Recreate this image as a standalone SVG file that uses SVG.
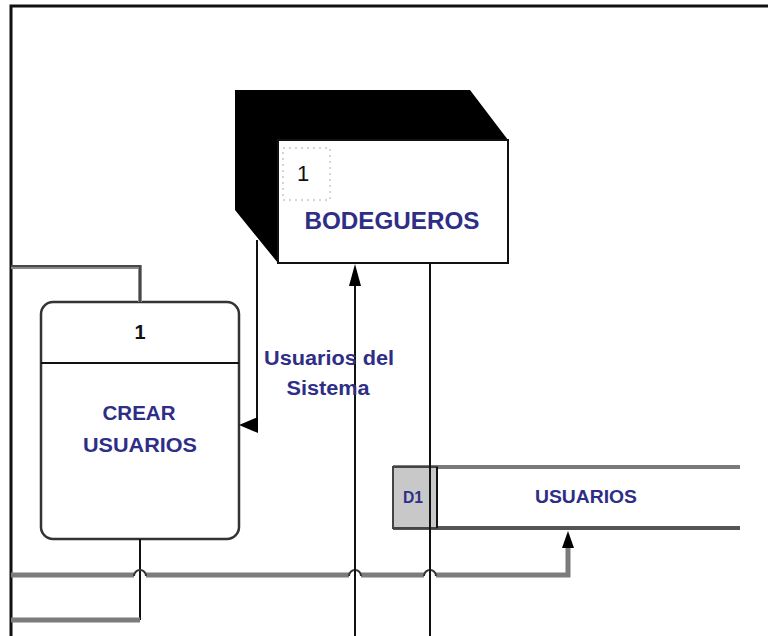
<svg xmlns="http://www.w3.org/2000/svg" width="768" height="636" viewBox="0 0 768 636">
<style>
.t{font-family:"Liberation Sans",Arial,sans-serif;font-weight:bold;fill:#2e2e86}
.k{fill:none;stroke:#111;stroke-width:2}
.g{fill:none;stroke:#7c7c7c;stroke-width:5}
.ah{fill:#000}
</style>
<rect width="768" height="636" fill="#fff"/>
<path d="M11,636 V6 H768" fill="none" stroke="#111" stroke-width="3"/>
<g id="ext-bodegueros">
<polygon points="235,90 470,90 508,140 278,140 278,263 235,210" fill="#000"/>
<rect x="278" y="140" width="230" height="123" fill="#fff" stroke="#111" stroke-width="2"/>
<rect x="283" y="148" width="47" height="52" fill="none" stroke="#aaa" stroke-width="1" stroke-dasharray="2,4"/>
<text x="297" y="181" font-size="22" font-family="Liberation Sans, Arial, sans-serif" fill="#111">1</text>
<text class="t" x="392" y="229" font-size="23" text-anchor="middle" textLength="175" lengthAdjust="spacingAndGlyphs">BODEGUEROS</text>
</g>
<g id="proc-crear">
<rect x="41" y="302" width="198" height="237" rx="12" fill="#fff" stroke="#333" stroke-width="2.5"/>
<line x1="41" y1="363" x2="239" y2="363" stroke="#111" stroke-width="2"/>
<text class="t" x="140" y="339" font-size="20" text-anchor="middle" style="fill:#111">1</text>
<text class="t" x="139" y="420" font-size="21" text-anchor="middle" textLength="73" lengthAdjust="spacingAndGlyphs">CREAR</text>
<text class="t" x="140" y="452" font-size="21" text-anchor="middle" textLength="114" lengthAdjust="spacingAndGlyphs">USUARIOS</text>
</g>
<g id="store-d1">
<line x1="393" y1="467" x2="740" y2="467" stroke="#7a7a7a" stroke-width="4"/>
<line x1="393" y1="528" x2="740" y2="528" stroke="#555" stroke-width="4"/>
<rect x="393" y="467" width="44" height="61" fill="#c8c8c8" stroke="#444" stroke-width="2"/>
<line x1="437" y1="467" x2="437" y2="528" stroke="#111" stroke-width="2"/>
<text class="t" x="413" y="503" font-size="17" text-anchor="middle" textLength="20" lengthAdjust="spacingAndGlyphs">D1</text>
<text class="t" x="586" y="503" font-size="18" text-anchor="middle" textLength="102" lengthAdjust="spacingAndGlyphs">USUARIOS</text>
</g>
<g id="connectors">
<path d="M140,302 V267 H11" fill="none" stroke="#888" stroke-width="4"/>
<path d="M140,302 V266 H11" fill="none" stroke="#333" stroke-width="1.5"/>
<path class="k" d="M140,539 V620"/>
<path class="g" d="M140,620 H11"/>
<path class="g" d="M11,575 H134 M146,575 H349 M361,575 H424 M436,575 H568 V548"/>
<path d="M134,576 a6,6 0 0 1 12,0 M349,576 a6,6 0 0 1 12,0 M424,576 a6,6 0 0 1 12,0" fill="none" stroke="#333" stroke-width="2"/>
<polygon class="ah" points="568,531 562,548 574,548"/>
<path class="k" d="M257,240 V425 H256"/>
<polygon class="ah" points="239,425 258,417 258,433"/>
<path class="k" d="M355,282 V636"/>
<polygon class="ah" points="355,264 349,286 361,286"/>
<path class="k" d="M430,263 V636"/>
<text class="t" x="329" y="365" font-size="20" text-anchor="middle" textLength="130" lengthAdjust="spacingAndGlyphs">Usuarios del</text>
<text class="t" x="328" y="395" font-size="20" text-anchor="middle" textLength="83" lengthAdjust="spacingAndGlyphs">Sistema</text>
</g>
</svg>
